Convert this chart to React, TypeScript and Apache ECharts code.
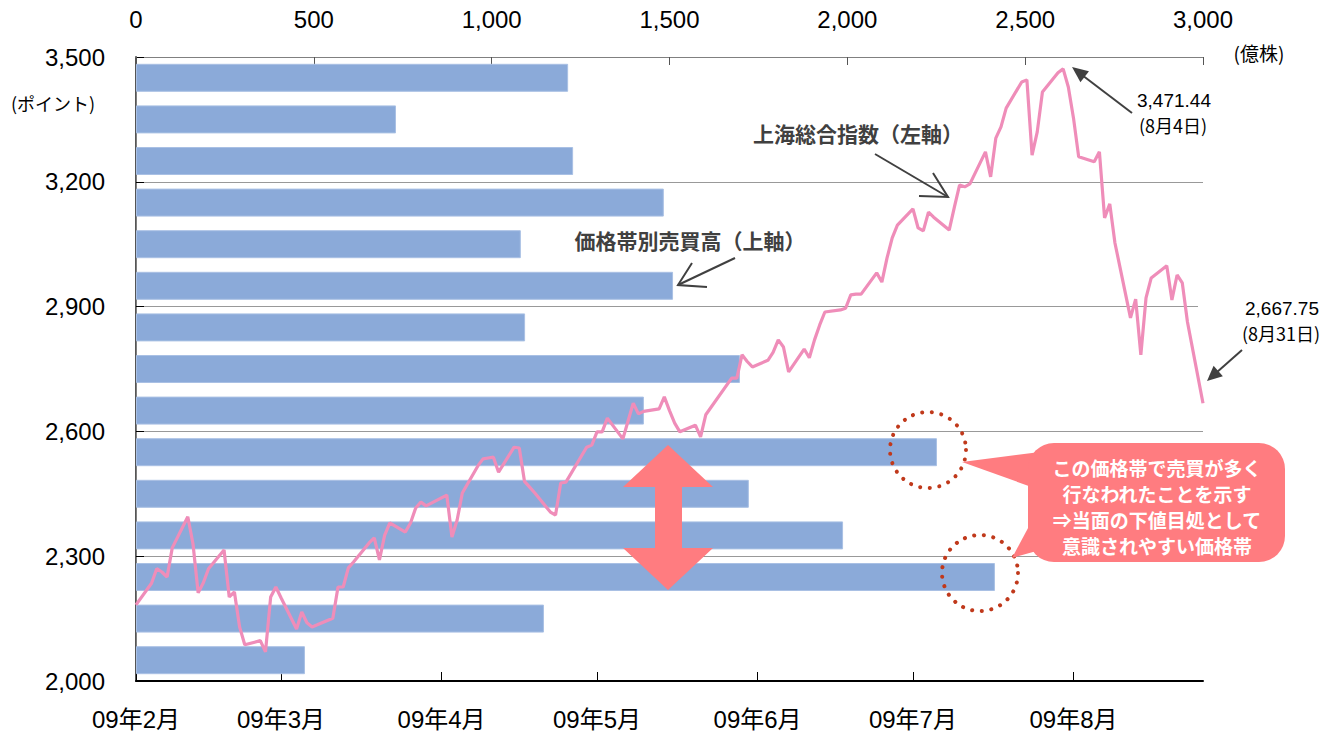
import React, { useEffect, useRef } from 'react';
import * as echarts from 'echarts';

// Price bands (bottom to top) and trading volume per band (億株, top axis)
const priceBands = ['2000-2100', '2100-2200', '2200-2300', '2300-2400', '2400-2500', '2500-2600', '2600-2700', '2700-2800', '2800-2900', '2900-3000', '3000-3100', '3100-3200', '3200-3300', '3300-3400', '3400-3500'];
const bandVolumes = [475, 1147, 2415, 1988, 1723, 2252, 1428, 1698, 1094, 1510, 1082, 1484, 1229, 731, 1215];

// Shanghai Composite daily closes, 2009 (trading days per month)
const febDays = [6, 9, 10, 11, 12, 13, 16, 17, 18, 19, 20, 23, 24, 25, 26, 27];
const febClose = [2183, 2235, 2270, 2262, 2250, 2320, 2395, 2330, 2212, 2236, 2270, 2315, 2202, 2214, 2130, 2087];
const marDays = [2, 3, 4, 5, 6, 9, 10, 11, 12, 13, 16, 17, 18, 19, 20, 23, 24, 25, 26, 27, 30, 31];
const marClose = [2097, 2070, 2202, 2226, 2200, 2125, 2166, 2140, 2130, 2135, 2151, 2226, 2226, 2272, 2286, 2332, 2344, 2291, 2350, 2380, 2358, 2380];
const aprDays = [1, 2, 3, 7, 8, 9, 10, 13, 14, 15, 16, 17, 20, 21, 22, 23, 24, 27, 28, 29, 30];
const aprClose = [2416, 2430, 2421, 2447, 2346, 2387, 2452, 2517, 2534, 2536, 2538, 2502, 2562, 2560, 2480, 2466, 2452, 2406, 2399, 2476, 2478];
const mayDays = [4, 5, 6, 7, 8, 11, 12, 13, 14, 15, 18, 19, 20, 21, 22, 25, 26, 27];
const mayClose = [2562, 2567, 2599, 2599, 2632, 2582, 2625, 2668, 2642, 2648, 2654, 2683, 2650, 2620, 2599, 2615, 2587, 2640];
const junDays = [1, 2, 3, 4, 5, 8, 9, 10, 11, 12, 15, 16, 17, 18, 19, 22, 23, 24, 25, 26, 29, 30];
const junClose = [2728, 2728, 2784, 2768, 2755, 2771, 2790, 2820, 2803, 2743, 2798, 2777, 2820, 2856, 2887, 2892, 2896, 2928, 2930, 2930, 2981, 2959];
const julDays = [1, 2, 3, 6, 7, 8, 9, 10, 13, 14, 15, 16, 17, 20, 21, 22, 23, 24, 27, 28, 29, 30, 31];
const julClose = [3017, 3065, 3096, 3135, 3089, 3082, 3127, 3115, 3084, 3139, 3192, 3188, 3195, 3272, 3212, 3305, 3332, 3377, 3440, 3445, 3264, 3320, 3416];
const augDays = [3, 4, 5, 6, 7, 10, 11, 12, 13, 14, 17, 18, 19, 20, 21, 24, 25, 26, 27, 28, 31];
const augClose = [3462, 3471.44, 3428, 3353, 3260, 3248, 3272, 3113, 3147, 3053, 2873, 2918, 2784, 2921, 2969, 2998, 2916, 2976, 2957, 2863, 2667.75];

// Bottom date axis (calendar days from the first date)
const dateMin = '2009-02-06';
const dateMax = '2009-08-31';
const monthTickDates = ['2009-02-06', '2009-03-06', '2009-04-06', '2009-05-06', '2009-06-06', '2009-07-06', '2009-08-06'];
const monthTickLabels = ['09年2月', '09年3月', '09年4月', '09年5月', '09年6月', '09年7月', '09年8月'];

// Callout text lines
const calloutLines = ['この価格帯で売買が多く', '行なわれたことを示す', '⇒当面の下値目処として', '意識されやすい価格帯'];

const FONT = "'Liberation Sans','Noto Sans CJK JP',sans-serif";
const JP = "'Noto Sans CJK JP',sans-serif";

function dayIndex(y: number, m: number, d: number): number {
  const [y0, m0, d0] = dateMin.split('-').map(Number);
  return Math.round((Date.UTC(y, m - 1, d) - Date.UTC(y0, m0 - 1, d0)) / 86400000);
}
function dayOf(s: string): number {
  const [y, m, d] = s.split('-').map(Number);
  return dayIndex(y, m, d);
}

function monthData(month: number, days: number[], vals: number[]) {
  return days.map((d, i) => [dayIndex(2009, month, d), vals[i]]);
}

function arrowHead(x1: number, y1: number, x2: number, y2: number, len: number, half: number) {
  const dx = x2 - x1, dy = y2 - y1;
  const L = Math.sqrt(dx * dx + dy * dy);
  const ux = dx / L, uy = dy / L;
  const bx = x2 - ux * len, by = y2 - uy * len;
  return [[x2, y2], [bx - uy * half, by + ux * half], [bx + uy * half, by - ux * half]];
}

export default function App() {
  const ref = useRef<HTMLDivElement>(null);
  useEffect(() => {
    document.body.style.margin = '0';
    if (!ref.current) return;
    const chart = echarts.init(ref.current, null, { renderer: 'svg' });
    const lineData = [
      ...monthData(2, febDays, febClose),
      ...monthData(3, marDays, marClose),
      ...monthData(4, aprDays, aprClose),
      ...monthData(5, mayDays, mayClose),
      ...monthData(6, junDays, junClose),
      ...monthData(7, julDays, julClose),
      ...monthData(8, augDays, augClose),
    ];
    const tickDays = monthTickDates.map(dayOf);
    const dark = '#404040';
    const salmon = '#FF7C80';
    const dotRed = '#C0391B';
    const center = { align: 'center', verticalAlign: 'middle', textAlign: 'center', textVerticalAlign: 'middle' };

    const calloutTexts = calloutLines.map((t, i) => ({
      type: 'text', z: 102, x: 1157, y: 467 + i * 26,
      style: { text: t, fontSize: 19, fontWeight: 'bold', lineHeight: 22, fontFamily: JP, fill: '#fff', ...center },
    }));

    const option: any = {
      animation: false,
      textStyle: { fontFamily: FONT },
      grid: { left: 136, right: 129, top: 57, bottom: 53, containLabel: false, outerBoundsMode: 'none' },
      xAxis: [
        {
          type: 'value', position: 'top', min: 0, max: 3000, interval: 500,
          axisLine: { show: true, lineStyle: { color: '#808080', width: 1 } },
          axisTick: { show: true, inside: true, length: 8, lineStyle: { color: '#555' } },
          axisLabel: { fontSize: 24, color: '#000', margin: 26, fontFamily: FONT, formatter: (v: number) => v.toLocaleString('en-US') },
          splitLine: { show: false },
        },
        {
          type: 'value', position: 'bottom', min: 0, max: dayOf(dateMax),
          axisLine: { show: true, lineStyle: { color: '#000', width: 2 } },
          axisTick: { show: true, inside: true, length: 9, customValues: tickDays, lineStyle: { color: '#000' } },
          axisLabel: {
            fontSize: 24, color: '#000', margin: 26, fontFamily: FONT, customValues: tickDays, hideOverlap: false,
            formatter: (v: number) => { const i = tickDays.indexOf(v); return i >= 0 ? monthTickLabels[i] : ''; },
          },
          splitLine: { show: false },
        },
      ],
      yAxis: [
        {
          type: 'value', min: 2000, max: 3500, interval: 300, position: 'left',
          axisLine: { show: true, lineStyle: { color: '#555', width: 2 } },
          axisTick: { show: true, inside: true, length: 8, lineStyle: { color: '#000' } },
          axisLabel: { fontSize: 24, color: '#000', margin: 31, fontFamily: FONT, formatter: (v: number) => v.toLocaleString('en-US') },
          splitLine: { show: true, lineStyle: { color: '#999', width: 1 } },
        },
        {
          type: 'category', position: 'right', data: priceBands,
          axisLine: { show: true, lineStyle: { color: '#808080', width: 1 } },
          axisTick: { show: false }, axisLabel: { show: false }, splitLine: { show: false },
        },
      ],
      series: [
        {
          type: 'bar', xAxisIndex: 0, yAxisIndex: 1, data: bandVolumes, barWidth: 28, z: 2,
          itemStyle: { color: '#8BAAD9', borderColor: '#A9C0E4', borderWidth: 1 },
        },
        {
          type: 'line', xAxisIndex: 1, yAxisIndex: 0, data: lineData, showSymbol: false, symbol: 'none', z: 3,
          lineStyle: { color: '#EF8DB9', width: 3.2 },
        },
      ],
      graphic: [
        { type: 'rect', z: 100, shape: { x: 1196, y: 82, width: 20, height: 55 }, style: { fill: '#fff' } },
        { type: 'rect', z: 100, shape: { x: 1198, y: 289, width: 18, height: 54 }, style: { fill: '#fff' } },
        { type: 'text', z: 101, x: 1259, y: 52, style: { text: '(億株)', fontSize: 19, fontFamily: JP, fill: '#000', ...center } },
        { type: 'text', z: 101, x: 53, y: 103, style: { text: '(ポイント)', fontSize: 18, fontFamily: JP, fill: '#000', ...center } },
        { type: 'text', z: 101, x: 858, y: 133, style: { text: '上海総合指数（左軸）', fontSize: 21, fontWeight: 'bold', fontFamily: JP, fill: dark, ...center } },
        { type: 'line', z: 101, shape: { x1: 875, y1: 154, x2: 948, y2: 197 }, style: { stroke: dark, lineWidth: 2 } },
        { type: 'polyline', z: 101, shape: { points: [[933, 173], [948, 197], [919, 196]] }, style: { stroke: dark, lineWidth: 2, fill: null } },
        { type: 'text', z: 101, x: 690, y: 240, style: { text: '価格帯別売買高（上軸）', fontSize: 21, fontWeight: 'bold', fontFamily: JP, fill: dark, ...center } },
        { type: 'line', z: 101, shape: { x1: 735, y1: 258, x2: 678, y2: 285 }, style: { stroke: dark, lineWidth: 2 } },
        { type: 'polyline', z: 101, shape: { points: [[692, 263], [678, 285], [707, 287]] }, style: { stroke: dark, lineWidth: 2, fill: null } },
        { type: 'text', z: 101, x: 1174, y: 100, style: { text: '3,471.44', fontSize: 19, fontFamily: FONT, fill: '#000', ...center } },
        { type: 'text', z: 101, x: 1173, y: 125, style: { text: '(8月4日)', fontSize: 18, fontFamily: JP, fill: '#000', ...center } },
        { type: 'line', z: 101, shape: { x1: 1132, y1: 113, x2: 1082, y2: 75 }, style: { stroke: dark, lineWidth: 2 } },
        { type: 'polygon', z: 101, shape: { points: arrowHead(1132, 113, 1072, 67, 16, 7) }, style: { fill: dark } },
        { type: 'text', z: 101, x: 1282, y: 308, style: { text: '2,667.75', fontSize: 19, fontFamily: FONT, fill: '#000', ...center } },
        { type: 'text', z: 101, x: 1281, y: 333, style: { text: '(8月31日)', fontSize: 18, fontFamily: JP, fill: '#000', ...center } },
        { type: 'line', z: 101, shape: { x1: 1242, y1: 350, x2: 1216, y2: 373 }, style: { stroke: dark, lineWidth: 2 } },
        { type: 'polygon', z: 101, shape: { points: arrowHead(1242, 350, 1207, 381, 15, 7) }, style: { fill: dark } },
        { type: 'polygon', z: 101, shape: { points: [[668, 445], [713, 487], [682, 487], [682, 548], [713, 548], [668, 590], [623, 548], [655, 548], [655, 487], [623, 487]] }, style: { fill: salmon } },
        { type: 'circle', z: 101, shape: { cx: 928, cy: 450, r: 38 }, style: { fill: null, stroke: dotRed, lineWidth: 4, lineDash: [0.1, 9.5], lineCap: 'round' } },
        { type: 'circle', z: 101, shape: { cx: 980, cy: 573, r: 38 }, style: { fill: null, stroke: dotRed, lineWidth: 4, lineDash: [0.1, 9.5], lineCap: 'round' } },
        { type: 'polygon', z: 101, shape: { points: [[1040, 452], [962, 462], [1040, 490]] }, style: { fill: salmon } },
        { type: 'polygon', z: 101, shape: { points: [[1035, 515], [1012, 558], [1058, 545]] }, style: { fill: salmon } },
        { type: 'rect', z: 101, shape: { x: 1028, y: 443, width: 257, height: 119, r: 26 }, style: { fill: salmon } },
        ...calloutTexts,
      ],
    };
    chart.setOption(option);
    return () => chart.dispose();
  }, []);
  return <div ref={ref} style={{ width: 1332, height: 734 }} />;
}
